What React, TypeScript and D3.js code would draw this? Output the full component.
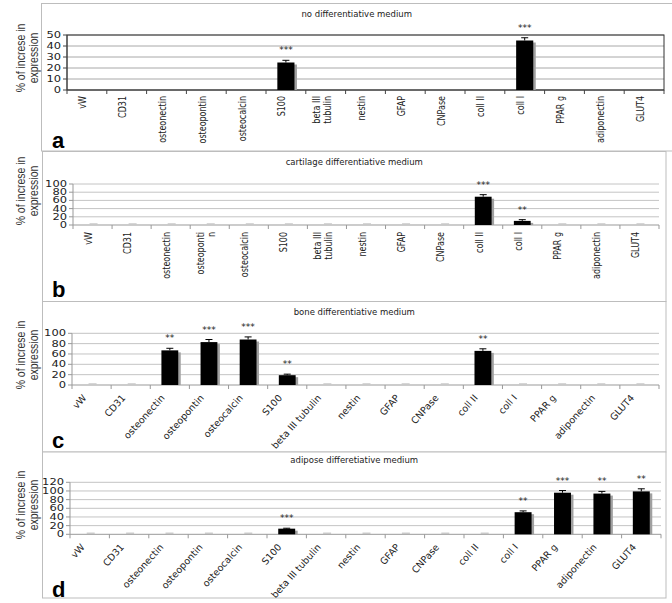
import React from "react";
import * as d3 from "d3";

const categories = [
  "vW", "CD31", "osteonectin", "osteopontin", "osteocalcin", "S100",
  "beta III tubulin", "nestin", "GFAP", "CNPase", "coll II", "coll I",
  "PPAR g", "adiponectin", "GLUT4",
];

// tick labels as printed (wrapped where the original wraps)
const tickLabelsA = ["vW", "CD31", "osteonectin", "osteopontin", "osteocalcin", "S100",
  "beta III|tubulin", "nestin", "GFAP", "CNPase", "coll II", "coll I", "PPAR g", "adiponectin", "GLUT4"];
const tickLabelsB = ["vW", "CD31", "osteonectin", "osteoponti|n", "osteocalcin", "S100",
  "beta III|tubulin", "nestin", "GFAP", "CNPase", "coll II", "coll I", "PPAR g", "adiponectin", "GLUT4"];
const tickLabelsCD = categories;

const valuesA = [0, 0, 0, 0, 0, 25, 0, 0, 0, 0, 0, 45, 0, 0, 0];
const errorsA = [0, 0, 0, 0, 0, 2, 0, 0, 0, 0, 0, 2.5, 0, 0, 0];
const sigA = ["", "", "", "", "", "***", "", "", "", "", "", "***", "", "", ""];

const valuesB = [0, 0, 0, 0, 0, 0, 0, 0, 0, 0, 69, 10, 0, 0, 0];
const errorsB = [0, 0, 0, 0, 0, 0, 0, 0, 0, 0, 5, 3, 0, 0, 0];
const sigB = ["", "", "", "", "", "", "", "", "", "", "***", "**", "", "", ""];

const valuesC = [0, 0, 67, 83, 88, 19, 0, 0, 0, 0, 66, 0, 0, 0, 0];
const errorsC = [0, 0, 4, 5, 5, 2, 0, 0, 0, 0, 4, 0, 0, 0, 0];
const sigC = ["", "", "**", "***", "***", "**", "", "", "", "", "**", "", "", "", ""];

const valuesD = [0, 0, 0, 0, 0, 13, 0, 0, 0, 0, 0, 51, 96, 94, 99];
const errorsD = [0, 0, 0, 0, 0, 1, 0, 0, 0, 0, 0, 3, 5, 5, 6];
const sigD = ["", "", "", "", "", "***", "", "", "", "", "", "**", "***", "**", "**"];

const titles = [
  "no differentiative medium",
  "cartilage differentiative medium",
  "bone differentiative medium",
  "adipose differetiative medium",
];
const panelLetters = ["a", "b", "c", "d"];
const yMaxes = [50, 100, 100, 120];
const ySteps = [10, 20, 20, 20];
const yAxisTitle = ["% of increse in", "expression"];

const FONT = "'DejaVu Sans', Verdana, sans-serif";
const ARIAL = "'Liberation Sans', Arial, sans-serif";

type Layout = {
  box: [number, number, number, number];
  x0: number; x1: number; y0: number; y1: number;
  rot: number; border: boolean; labelDy: number; titleY: number; ylabY: number; letterY: number;
  zeroDash: boolean;
};

const layouts: Layout[] = [
  { box: [41.5, 3.5, 640, 147.5], x0: 67, x1: 664, y0: 35, y1: 90, rot: -90, border: true, labelDy: 6, titleY: 17, ylabY: 58, letterY: 148, zeroDash: false },
  { box: [42.5, 151.5, 623.5, 150], x0: 73, x1: 659, y0: 184, y1: 225, rot: -90, border: false, labelDy: 7, titleY: 165, ylabY: 191, letterY: 297, zeroDash: true },
  { box: [42.5, 301.5, 623.5, 150.5], x0: 72, x1: 659, y0: 333.3, y1: 385, rot: -48, border: false, labelDy: 11, titleY: 315, ylabY: 355, letterY: 448, zeroDash: true },
  { box: [42.5, 452, 623.5, 146], x0: 70, x1: 661, y0: 482.3, y1: 534.3, rot: -48, border: false, labelDy: 11, titleY: 463, ylabY: 505, letterY: 597, zeroDash: true },
];

const panelData = [
  { values: valuesA, errors: errorsA, sig: sigA, labels: tickLabelsA },
  { values: valuesB, errors: errorsB, sig: sigB, labels: tickLabelsB },
  { values: valuesC, errors: errorsC, sig: sigC, labels: tickLabelsCD },
  { values: valuesD, errors: errorsD, sig: sigD, labels: tickLabelsCD },
];

function Panel({ i }: { i: number }) {
  const L = layouts[i];
  const D = panelData[i];
  const x = d3.scaleBand<string>().domain(categories).range([L.x0, L.x1]).paddingInner(0.57).paddingOuter(0.285);
  const y = d3.scaleLinear().domain([0, yMaxes[i]]).range([L.y1, L.y0]);
  const ticks = d3.range(0, yMaxes[i] + 0.001, ySteps[i]);
  const step = x.step();
  const bw = x.bandwidth();
  const gridColor = L.border ? "#a8a8a8" : "#c4c4c4";
  const axisColor = L.border ? "#444" : "#999";
  const [bx, by, bwid, bh] = L.box;
  const boxCx = bx + Math.min(bwid, 672 - bx) / 2;
  const tl = L.y1 - L.y0;
  const tx = L.x0 - 6;
  return (
    <g>
      <rect x={bx} y={by} width={bwid} height={bh} fill="white" stroke="#bdbdbd" strokeWidth={1} />
      <text x={boxCx} y={L.titleY} textAnchor="middle" fontFamily={FONT} fontSize={8.5} fill="#222">{titles[i]}</text>
      {/* y axis title */}
      <text transform={`translate(${25},${L.ylabY}) scale(1.3,1) rotate(-90)`} textAnchor="middle" fontFamily={ARIAL} fontSize={10.5} fill="#333">{yAxisTitle[0]}</text>
      <text transform={`translate(${37.5},${L.ylabY}) scale(1.3,1) rotate(-90)`} textAnchor="middle" fontFamily={ARIAL} fontSize={10.5} fill="#333">{yAxisTitle[1]}</text>
      {/* grid */}
      {ticks.map((t) => (
        <line key={"g" + t} x1={L.x0} x2={L.x1} y1={y(t)} y2={y(t)} stroke={t === 0 ? axisColor : gridColor} strokeWidth={1} />
      ))}
      {L.border && <rect x={L.x0} y={L.y0} width={L.x1 - L.x0} height={tl} fill="none" stroke="#333" strokeWidth={1} />}
      {/* y axis */}
      <line x1={L.x0} x2={L.x0} y1={L.y0} y2={L.y1} stroke={axisColor} />
      {ticks.map((t) => (
        <g key={"t" + t}>
          <line x1={L.x0 - 4} x2={L.x0} y1={y(t)} y2={y(t)} stroke={axisColor} />
          <text transform={`translate(${tx},${y(t)}) scale(1.35,1)`} dy="0.35em" textAnchor="end" fontFamily={FONT} fontSize={8.5} fill="#222">{t}</text>
        </g>
      ))}
      {/* x ticks */}
      {d3.range(categories.length + 1).map((k) => (
        <line key={"xt" + k} x1={L.x0 + k * step} x2={L.x0 + k * step} y1={L.y1} y2={L.y1 + 4} stroke={axisColor} />
      ))}
      {/* bars */}
      {categories.map((c, k) => {
        const v = D.values[k];
        const e = D.errors[k];
        const bx0 = x(c) as number;
        const cx = bx0 + bw / 2;
        if (v <= 0) {
          return L.zeroDash ? (
            <line key={c} x1={cx - 3} x2={cx + 5} y1={L.y1 - 1} y2={L.y1 - 1} stroke="#c8c8c8" strokeWidth={1.5} />
          ) : null;
        }
        const top = y(v);
        const etop = y(v + e);
        return (
          <g key={c}>
            <rect x={bx0 + 2.5} y={top + 2} width={bw} height={L.y1 - top - 2} fill="#a0a0a0" />
            <rect x={bx0} y={top} width={bw} height={L.y1 - top} fill="#000" />
            <line x1={cx} x2={cx} y1={top} y2={etop} stroke="#000" strokeWidth={1} />
            <line x1={cx - 3.5} x2={cx + 3.5} y1={etop} y2={etop} stroke="#000" strokeWidth={1} />
            {D.sig[k] && (
              <text x={cx} y={etop - 7} textAnchor="middle" fontFamily={FONT} fontSize={9} fill="#222">{D.sig[k]}</text>
            )}
          </g>
        );
      })}
      {/* category labels */}
      {categories.map((c, k) => {
        const cx = (x(c) as number) + bw / 2;
        const lines = D.labels[k].split("|");
        if (L.rot === -90) {
          const n = lines.length;
          return (
            <text key={"l" + c} transform={`translate(${cx - 4},${L.y1 + L.labelDy}) scale(1.25,1) rotate(-90)`} textAnchor="end" fontFamily={FONT} fontSize={8} fill="#222">
              {lines.map((s, j) => (
                <tspan key={j} x={0} dy={j === 0 ? (n === 1 ? "0.35em" : "-0.2em") : "1.1em"}>{s}</tspan>
              ))}
            </text>
          );
        }
        return (
          <text key={"l" + c} transform={`translate(${cx - 7},${L.y1 + L.labelDy}) rotate(${L.rot})`} textAnchor="end" dy="0.35em" fontFamily={FONT} fontSize={9.5} fill="#222">{lines.join(" ")}</text>
        );
      })}
      <text x={52} y={L.letterY} fontFamily={ARIAL} fontWeight="bold" fontSize={22} fill="#000">{panelLetters[i]}</text>
    </g>
  );
}

export default function App() {
  return (
    <svg width={672} height={603} viewBox="0 0 672 603" style={{ display: "block", position: "absolute", left: 0, top: 0, background: "white" }}>
      <rect x={0} y={0} width={672} height={603} fill="white" />
      {[0, 1, 2, 3].map((i) => <Panel key={i} i={i} />)}
    </svg>
  );
}
